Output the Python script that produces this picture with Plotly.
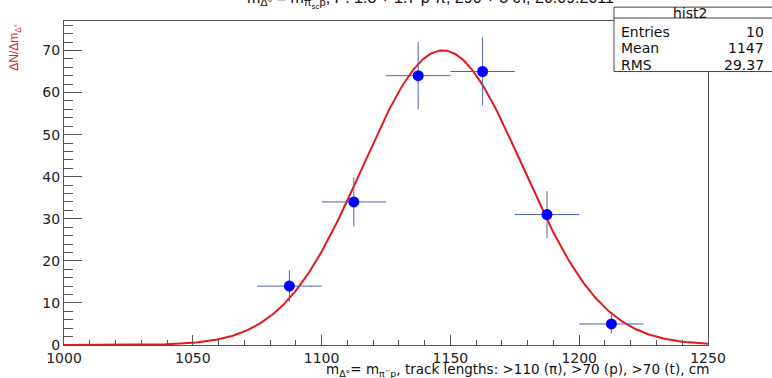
import numpy as np
import plotly.graph_objects as go

# data
bin_centers = [1087.5, 1112.5, 1137.5, 1162.5, 1187.5, 1212.5]
counts = [14, 34, 64, 65, 31, 5]
bin_half_width = [12.5] * 6
count_err = [float(np.sqrt(c)) for c in counts]

fit_amp = 70.0
fit_mean = 1147.0
fit_sigma = 31.0
fit_x = np.linspace(1000, 1250, 400)
fit_y = fit_amp * np.exp(-0.5 * ((fit_x - fit_mean) / fit_sigma) ** 2)

stats_labels = ["Entries", "Mean", "RMS"]
stats_values = ["10", "1147", "29.37"]

W, H = 772, 378
ML, MR, MT, MB = 64, 64, 21, 30
PW, PH = W - ML - MR, H - MT - MB


def px(x):
    return (x - ML) / PW


def py(y):
    return (H - MB - y) / PH


FONT = "DejaVu Sans, Liberation Sans, Arial, sans-serif"
FONT2 = "Liberation Sans, Arial, sans-serif"

fig = go.Figure()
fig.add_trace(go.Scatter(
    x=fit_x, y=fit_y, mode="lines",
    line=dict(color="#e3191c", width=2), hoverinfo="skip"))
fig.add_trace(go.Scatter(
    x=bin_centers, y=counts, mode="markers",
    marker=dict(color="#0000ff", size=11, line=dict(width=0)),
    error_x=dict(type="data", array=bin_half_width, color="#5060b0", thickness=1, width=0),
    error_y=dict(type="data", array=count_err, color="#5060b0", thickness=1, width=0)))

axis_common = dict(showline=True, mirror=True, linecolor="#555555", linewidth=1,
                   showgrid=False, zeroline=False, ticks="inside",
                   tickcolor="#555555", tickfont=dict(family=FONT, size=14, color="#222"))

fig.update_xaxes(range=[1000, 1250], dtick=50, tick0=1000, ticklen=10,
                 minor=dict(dtick=10, ticks="inside", ticklen=5, tickcolor="#555555"),
                 **axis_common)
fig.update_yaxes(range=[0, 77], dtick=10, tick0=0, ticklen=18,
                 minor=dict(dtick=2, ticks="inside", ticklen=9, tickcolor="#555555"),
                 **axis_common)

shapes = [
    dict(type="rect", xref="paper", yref="paper", x0=px(614), x1=px(790), y0=py(72), y1=py(7),
         fillcolor="white", line=dict(color="#444444", width=1), layer="above"),
    dict(type="line", xref="paper", yref="paper", x0=px(614), x1=px(790), y0=py(18), y1=py(18),
         line=dict(color="#444444", width=1), layer="above"),
]

annotations = [
    dict(text="hist2", xref="paper", yref="paper", x=px(690), y=py(12.5),
         showarrow=False, xanchor="center", yanchor="middle",
         font=dict(family=FONT, size=14, color="#111")),
]
for i, (lab, val) in enumerate(zip(stats_labels, stats_values)):
    yy = 32 + i * 16.5
    annotations.append(dict(text=lab, xref="paper", yref="paper", x=px(619), y=py(yy),
                            showarrow=False, xanchor="left", yanchor="middle",
                            font=dict(family=FONT, size=14, color="#111")))
    annotations.append(dict(text=val, xref="paper", yref="paper", x=px(766), y=py(yy),
                            showarrow=False, xanchor="right", yanchor="middle",
                            font=dict(family=FONT, size=14, color="#111")))

annotations.append(dict(
    text="ΔN/Δm<sub>Δ°</sub>", xref="paper", yref="paper", x=px(15), y=py(48),
    textangle=-90, showarrow=False, xanchor="center", yanchor="middle",
    font=dict(family=FONT2, size=12, color="#d42a2a")))
annotations.append(dict(
    text="m<sub>Δ°</sub>= m<sub>π<sup>−</sup>p</sub>, track lengths: >110 (π), >70 (p), >70 (t), cm",
    xref="paper", yref="paper", x=px(711), y=py(373),
    showarrow=False, xanchor="right", yanchor="middle",
    font=dict(family=FONT, size=13.5, color="#111")))
annotations.append(dict(
    text="m<sub>Δ°</sub> = m<sub>π<sub>sc</sub>p</sub>, P: 1.3 ÷ 1.7 p-π, 290 ÷ 3 ст, 20.09.2011",
    xref="paper", yref="paper", x=px(245), y=py(13),
    showarrow=False, xanchor="left", yanchor="bottom",
    font=dict(family=FONT2, size=16, color="#111")))

fig.update_layout(
    width=W, height=H, margin=dict(l=ML, r=MR, t=MT, b=MB),
    paper_bgcolor="white", plot_bgcolor="white", showlegend=False,
    shapes=shapes, annotations=annotations)

fig.write_html("out.html")
